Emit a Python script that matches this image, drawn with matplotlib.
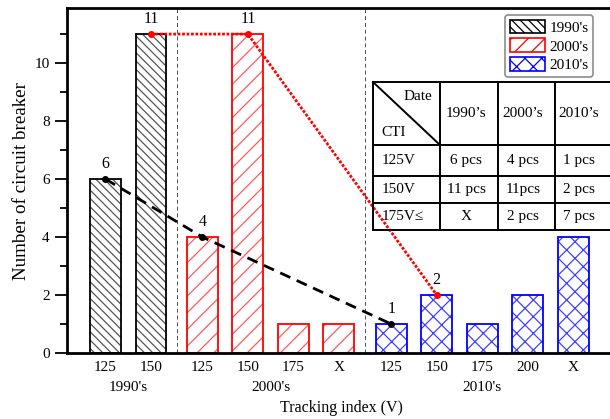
import numpy as np
import matplotlib.pyplot as plt
from matplotlib.lines import Line2D
from matplotlib.patches import Patch

plt.rcParams['font.family'] = ['Liberation Serif', 'DejaVu Serif']
plt.rcParams['hatch.linewidth'] = 0.9

#### data ############################################
decades = ["1990's", "2000's", "2010's"]
cti_1990 = ['125', '150']
cti_2000 = ['125', '150', '175', 'X']
cti_2010 = ['125', '150', '175', '200', 'X']
count_1990 = [6, 11]
count_2000 = [4, 11, 1, 1]
count_2010 = [1, 2, 1, 2, 4]

# trend lines: 125V and 150V across the three decades
trend_125 = [6, 4, 1]
trend_150 = [11, 11, 2]

# summary table
table_cols = ['1990’s', '2000’s', '2010’s']
table_rows = ['125V', '150V', '175V≤']
table_cells = [['6 pcs', '4 pcs', '1 pcs'],
               ['11 pcs', '11pcs', '2 pcs'],
               ['X', '2 pcs', '7 pcs']]

colors = ['black', 'red', 'blue']
hatch_colors = ['#555555', '#ff5a5a', '#4040ff']
hatches = ['\\\\\\\\', '//', 'xx']

#### layout ##########################################
W, H = 610, 419
fig = plt.figure(figsize=(W / 100, H / 100), dpi=100)
ax = fig.add_axes([67 / W, 66 / H, 548 / W, 345 / H])

gaps = [0, 0.13, 0.28]
groups = [(cti_1990, count_1990), (cti_2000, count_2000), (cti_2010, count_2010)]
xs_all = []
start = 0
for g, (labels, counts) in enumerate(groups):
    xs = start + gaps[g] + np.arange(len(counts))
    xs_all.append(xs)
    start += len(counts)

bw = 0.68
for xs, (labels, counts), c, hc, h in zip(xs_all, groups, colors, hatch_colors, hatches):
    ax.bar(xs, counts, bw, color='white', edgecolor=hc, hatch=h, linewidth=0)
    ax.bar(xs, counts, bw, color='none', edgecolor=c, linewidth=1.3)

# group separators
for a, b in [(xs_all[0][-1], xs_all[1][0]), (xs_all[1][-1], xs_all[2][0])]:
    ax.axvline((a + b) / 2, color='0.3', ls=(0, (4, 3)), lw=0.7)

# trend lines
x125 = [xs_all[0][0], xs_all[1][0], xs_all[2][0]]
x150 = [xs_all[0][1], xs_all[1][1], xs_all[2][1]]
ax.plot(x125, trend_125, color='black', ls=(0, (4, 2.5)), lw=2, marker='o', ms=4)
ax.plot(x150, trend_150, color='red', ls=(0, (1, 0.6)), lw=2, marker='o', ms=4)
for xs, vals in [(x125, trend_125), (x150, trend_150)]:
    for x, v in zip(xs, vals):
        ax.text(x, v + 0.25, str(v), ha='center', va='bottom', fontsize=11.5)

ax.set_xlim(xs_all[0][0] - 0.846, xs_all[0][0] - 0.846 + 548 / 45.5)
ax.set_ylim(0, 11.9)
ax.set_yticks([0, 2, 4, 6, 8, 10])
ax.set_yticks(np.arange(1, 12, 2), minor=True)
ax.tick_params(axis='y', which='major', length=9, width=1.3, labelsize=11)
ax.tick_params(axis='y', which='minor', length=5, width=1.3)
ax.set_xticks(np.concatenate(xs_all))
ax.set_xticklabels(cti_1990 + cti_2000 + cti_2010)
ax.tick_params(axis='x', length=0, labelsize=11, pad=6)
for s in ax.spines.values():
    s.set_linewidth(2)

for xs, d in zip(xs_all, decades):
    ax.text(xs.mean(), -1.2, d, ha='center', va='center', fontsize=11)
ax.text(0.5, -0.16, 'Tracking index (V)', transform=ax.transAxes,
        ha='center', va='center', fontsize=11.5)
ax.set_ylabel('Number of circuit breaker', fontsize=13.7, labelpad=3)

handles = [Patch(facecolor='white', edgecolor=c, hatch=h, lw=1.2)
           for c, h in zip(colors, hatches)]
leg = ax.legend(handles, decades, loc='upper right', bbox_to_anchor=(593 / W, 1 - 15 / H),
                bbox_transform=fig.transFigure, fontsize=11, handlelength=2.3,
                handleheight=1.0, handletextpad=0.3, borderpad=0.3, labelspacing=0.25,
                borderaxespad=0, framealpha=1, edgecolor='0.55', fancybox=True)
leg.get_frame().set_linewidth(1.2)

#### table, drawn in pixel coordinates ################
def fx(x):
    return x / W


def fy(y):
    return 1 - y / H


col_x = [373, 440, 498, 555, 613]
row_y = [82, 145, 176, 203, 230]
for x in col_x:
    fig.add_artist(Line2D([fx(x)] * 2, [fy(row_y[0]), fy(row_y[-1])], color='black', lw=1.4))
for y in row_y:
    fig.add_artist(Line2D([fx(col_x[0]), fx(col_x[-1])], [fy(y)] * 2, color='black', lw=1.4))
fig.add_artist(Line2D([fx(col_x[0]), fx(col_x[1])], [fy(row_y[0]), fy(row_y[1])],
                      color='black', lw=1.4))
fig.text(fx(418), fy(97), 'Date', ha='center', va='center', fontsize=11)
fig.text(fx(394), fy(132), 'CTI', ha='center', va='center', fontsize=11)
col_c = [466, 523, 579]
for lbl, x in zip(table_cols, col_c):
    fig.text(fx(x), fy((row_y[0] + row_y[1]) / 2), lbl, ha='center', va='center', fontsize=11)
for i, (lbl, cells) in enumerate(zip(table_rows, table_cells)):
    yc = fy((row_y[i + 1] + row_y[i + 2]) / 2)
    fig.text(fx(382), yc, lbl, ha='left', va='center', fontsize=11)
    for txt, x in zip(cells, col_c):
        fig.text(fx(x), yc, txt, ha='center', va='center', fontsize=11)

fig.savefig('out.png', dpi=100)
